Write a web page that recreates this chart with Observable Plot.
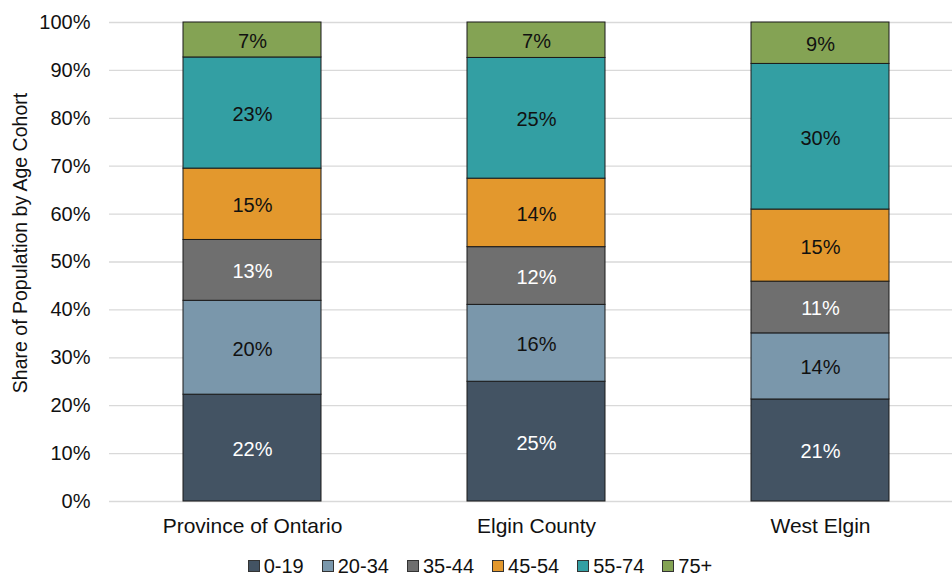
<!DOCTYPE html>
<html>
<head>
<meta charset="utf-8">
<script src="https://cdn.jsdelivr.net/npm/d3@7"></script>
<script src="https://cdn.jsdelivr.net/npm/@observablehq/plot@0.6"></script>
<style>
  body { margin: 0; background: #fff; font-family: "Liberation Sans", Arial, sans-serif; }
  #legend { display: flex; justify-content: center; align-items: center; height: 35px; padding-top: 16px; box-sizing: border-box; font-size: 20px; line-height: 20px; color: #111; padding-left: 8px; }
  #legend .item { display: flex; align-items: center; margin: 0 9px; }
  #legend .sw { width: 10px; height: 10px; border: 1px solid #333; margin-right: 4px; }
</style>
</head>
<body>
<div id="chart"></div>
<div id="legend"></div>
<script>
const categories = ["Province of Ontario", "Elgin County", "West Elgin"];
const cohorts = ["0-19", "20-34", "35-44", "45-54", "55-74", "75+"];
const ontario = [22.3, 19.6, 12.7, 14.9, 23.2, 7.3];
const elgin = [25.0, 16.05, 12.05, 14.3, 25.2, 7.4];
const westElgin = [21.3, 13.8, 10.8, 15.05, 30.4, 8.65];
const yTicks = [0, 10, 20, 30, 40, 50, 60, 70, 80, 90, 100];
const yTitle = "Share of Population by Age Cohort";
const colors = ["#435363", "#7A97AB", "#6F6F6F", "#E3982D", "#339FA3", "#84A354"];
const darkCohorts = ["0-19", "35-44"];

const series = [ontario, elgin, westElgin];
const data = [];
categories.forEach((c, i) => {
  cohorts.forEach((k, j) => {
    data.push({region: c, cohort: k, value: series[i][j]});
  });
});

const plot = Plot.plot({
  width: 952,
  height: 540,
  marginLeft: 109,
  marginRight: 0,
  marginTop: 22,
  marginBottom: 39,
  style: {fontFamily: "'Liberation Sans', Arial, sans-serif", fontSize: "20px", color: "#111", background: "#fff"},
  x: {domain: categories, range: [109.5, 963], paddingInner: 0.515, paddingOuter: 0.2575, label: null},
  y: {domain: [0, 100], label: null},
  color: {domain: cohorts, range: colors},
  marks: [
    Plot.ruleY(yTicks, {stroke: "#d9d9d9", strokeWidth: 1.3}),
    Plot.barY(data, {x: "region", y: "value", fill: "cohort", stroke: "#1a1a1a", strokeWidth: 1, order: cohorts}),
    Plot.text(data, Plot.stackY({
      x: "region", y: "value", z: "cohort", order: cohorts,
      text: d => Math.round(d.value) + "%",
      fill: d => darkCohorts.includes(d.cohort) ? "#ffffff" : "#111111",
      fontSize: 20, dy: 1.5
    })),
    Plot.axisY(yTicks, {tickSize: 0, tickPadding: 19, tickFormat: d => d + "%", fontSize: 20, label: null}),
    Plot.text([yTitle], {frameAnchor: "left", textAnchor: "middle", rotate: -90, dx: -89, dy: -19, fontSize: 19.5, fill: "#111", lineAnchor: "middle"}),
    Plot.axisX({tickSize: 0, tickPadding: 17, fontSize: 21, label: null})
  ]
});
document.getElementById("chart").appendChild(plot);

const legend = document.getElementById("legend");
cohorts.forEach((k, j) => {
  const item = document.createElement("div");
  item.className = "item";
  const sw = document.createElement("div");
  sw.className = "sw";
  sw.style.background = colors[j];
  const t = document.createElement("span");
  t.textContent = k;
  item.appendChild(sw);
  item.appendChild(t);
  legend.appendChild(item);
});
</script>
</body>
</html>
